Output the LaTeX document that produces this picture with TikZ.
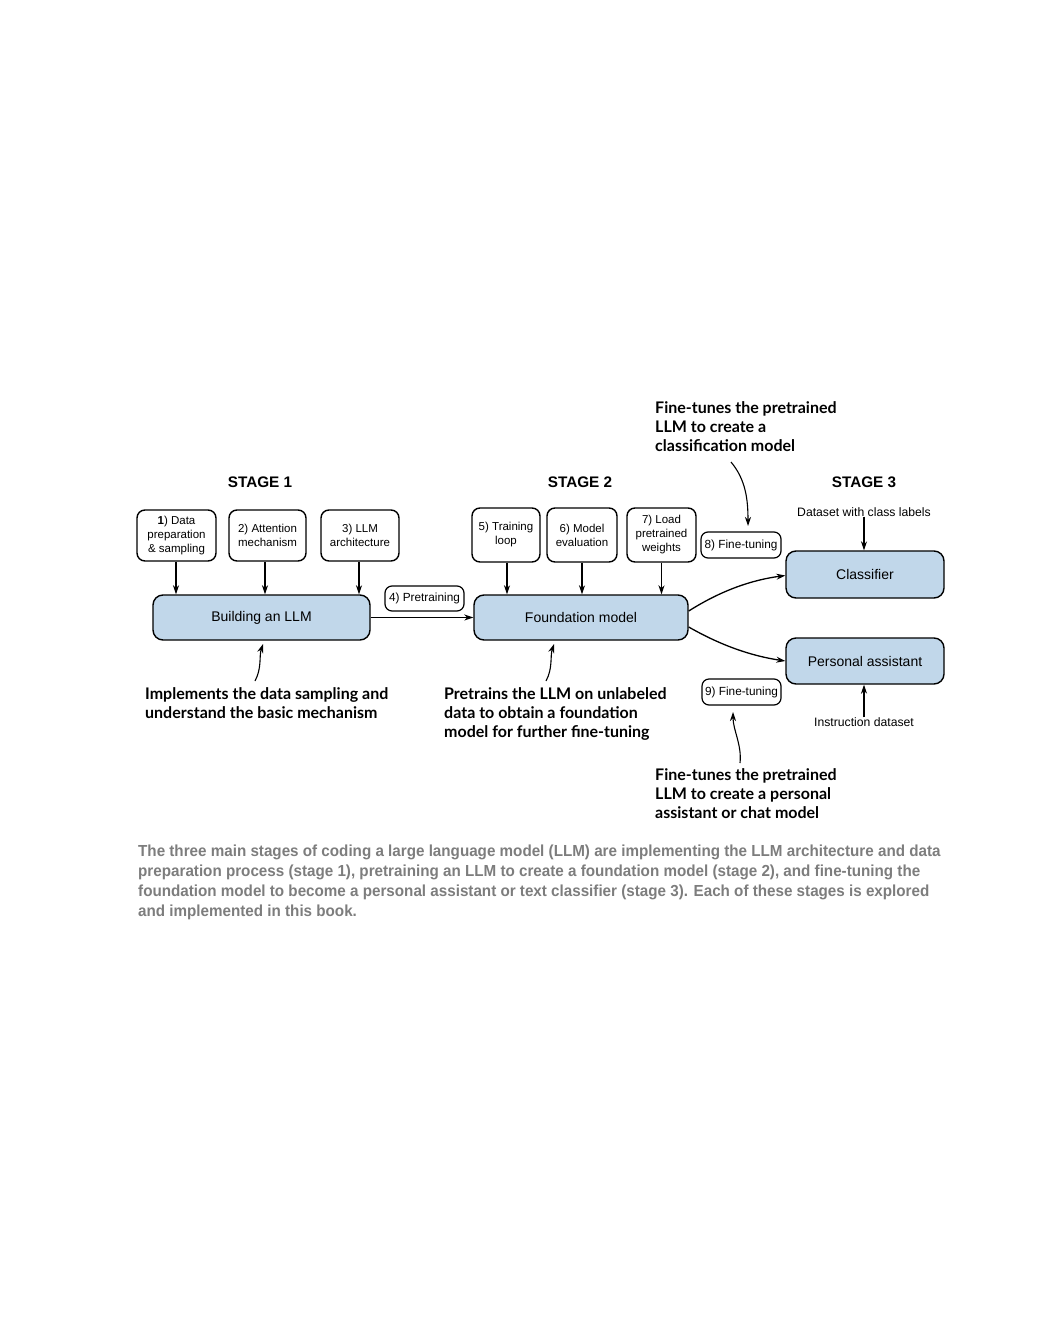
\documentclass[tikz,border=0pt]{standalone}
\usepackage{fontspec}
\setmainfont{Liberation Sans}
\newfontfamily\annfont{Lato}
\newfontfamily\capfont[FakeStretch=0.95]{Liberation Sans}
\usetikzlibrary{arrows.meta}
\definecolor{boxblue}{RGB}{193,215,234}
\definecolor{capgray}{RGB}{125,125,125}
\begin{document}
\begin{tikzpicture}[x=1pt,y=-1pt,
  every node/.style={inner sep=0pt},
  smallbox/.style={draw,line width=1.4pt,rounded corners=8pt,fill=white,align=center,font=\fontsize{11.5}{14}\selectfont,minimum height=51pt},
  tagbox/.style={draw,line width=1.2pt,rounded corners=7pt,fill=white,font=\fontsize{11.8}{13}\selectfont,minimum height=25pt,minimum width=79pt},
  mainbox/.style={draw,line width=1.4pt,rounded corners=10pt,fill=boxblue,font=\fontsize{14}{16}\selectfont,minimum height=45pt},
  stagelbl/.style={font=\bfseries\fontsize{15.3}{17}\selectfont},
  ann/.style={font=\annfont\bfseries\fontsize{16}{19}\selectfont,align=left,anchor=north west},
  small/.style={font=\fontsize{12.2}{14}\selectfont},
  arr/.style={line width=1.3pt,-{Stealth[length=9pt,width=6pt]}},
  thinarr/.style={line width=1.1pt,-{Stealth[length=9pt,width=6pt]}}
]
\useasboundingbox (0,0) rectangle (1062,1332);

% stage labels
\node[stagelbl] (s1) at (260,482) {STAGE 1};
\node[stagelbl] (s2) at (580,482) {STAGE 2};
\node[stagelbl] (s3) at (864,482) {STAGE 3};

% small boxes
\node[smallbox,minimum width=79pt] (b1) at (176.5,535.5) {\textbf{1}) Data\\preparation\\\& sampling};
\node[smallbox,minimum width=77pt] (b2) at (267.5,535.5) {2) Attention\\mechanism};
\node[smallbox,minimum width=78pt] (b3) at (360,535.5) {3) LLM\\architecture};
\node[smallbox,minimum width=68pt,minimum height=54pt] (b5) at (506,535) {5) Training\\loop};
\node[smallbox,minimum width=70pt,minimum height=54pt] (b6) at (582,535) {6) Model\\evaluation};
\node[smallbox,minimum width=69pt,minimum height=54pt] (b7) at (661.5,535) {7) Load\\pretrained\\weights};

% main boxes
\node[mainbox,minimum width=217pt] (build) at (261.5,617.5) {Building an LLM};
\node[mainbox,minimum width=214pt] (found) at (581,617.5) {Foundation model};
\node[mainbox,minimum width=158pt,minimum height=47pt] (cls) at (865,574.5) {Classifier};
\node[mainbox,minimum width=158pt,minimum height=46pt] (pa) at (865,661) {Personal assistant};

% tag boxes
\node[tagbox] (pre4) at (424.5,598.5) {4) Pretraining};
\node[tagbox,minimum width=80pt,minimum height=26pt] (ft8) at (741,545) {8) Fine-tuning};
\node[tagbox,minimum height=26pt] (ft9) at (741.5,692) {9) Fine-tuning};

% dataset labels
\node[small] (dcl) at (864,512) {Dataset with class labels};
\node[small] (ids) at (864,722) {Instruction dataset};

% arrows small boxes -> main boxes
\draw[arr] (b1.south -| 176,0) -- (build.north -| 176,0);
\draw[arr] (b2.south -| 265,0) -- (build.north -| 265,0);
\draw[arr] (b3.south -| 359,0) -- (build.north -| 359,0);
\draw[arr] (b5.south -| 507,0) -- (found.north -| 507,0);
\draw[arr] (b6.south) -- (b6.south |- found.north);
\draw[arr] (b7.south) -- (b7.south |- found.north);

% main flow
\draw[arr] (build.east) -- (found.east -| found.west);
\draw[arr] ([yshift=6.5pt]found.east) .. controls (722,590) and (752,580) .. ([yshift=-1pt]cls.west);
\draw[arr] ([yshift=-9.5pt]found.east) .. controls (722,646) and (752,656) .. (pa.west);
\draw[thinarr] (dcl.south) -- (dcl.south |- cls.north);
\draw[thinarr] (ids.north) -- (ids.north |- pa.south);

% annotations
\node[ann] (a1) at (655,401) {Fine-tunes the pretrained\\LLM to create a\\classification model};
\node[ann] (a2) at (145,687) {Implements the data sampling and\\understand the basic mechanism};
\node[ann] (a3) at (444,687) {Pretrains the LLM on unlabeled\\data to obtain a foundation\\model for further fine-tuning};
\node[ann] (a4) at (655,768) {Fine-tunes the pretrained\\LLM to create a personal\\assistant or chat model};

\coordinate (c1s) at (731,462);
\coordinate (c1e) at (748,526);
\coordinate (c2s) at (255,681);
\coordinate (c2e) at (263,644);
\coordinate (c3s) at (546,681);
\coordinate (c3e) at (554,644);
\coordinate (c4s) at (740,763);
\coordinate (c4e) at (733,712);
\draw[thinarr] (c1s) .. controls (746,480) and (748,500) .. (c1e);
\draw[thinarr] (c2s) .. controls (262,668) and (259,656) .. (c2e);
\draw[thinarr] (c3s) .. controls (553,668) and (550,656) .. (c3e);
\draw[thinarr] (c4s) .. controls (742,745) and (733,730) .. (c4e);

% caption
\node[anchor=north west,align=left,text=capgray,font=\capfont\bfseries\fontsize{16}{20}\selectfont] (cap) at (138,845) {The three main stages of coding a large language model (LLM) are implementing the LLM architecture and data\\preparation process (stage 1), pretraining an LLM to create a foundation model (stage 2), and fine-tuning the\\foundation model to become a personal assistant or text classifier (stage 3). Each of these stages is explored\\and implemented in this book.};
\end{tikzpicture}
\end{document}
